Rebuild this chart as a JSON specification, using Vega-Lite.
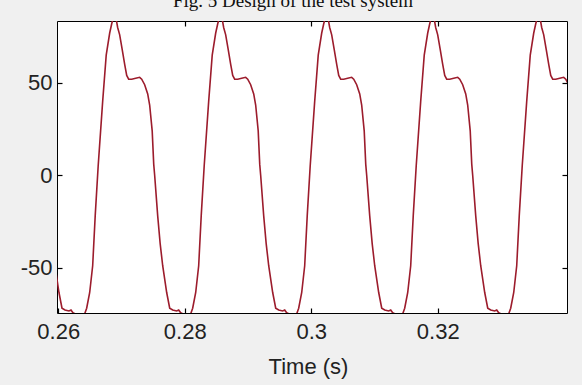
{
  "$schema": "https://vega.github.io/schema/vega-lite/v6.json",
  "autosize": "none",
  "width": 510,
  "height": 292,
  "padding": {"left": 57, "top": 21, "right": 15, "bottom": 72},
  "background": "#f0f0f0",
  "title": {
    "text": "Fig. 5 Design of the test system",
    "font": "Liberation Serif",
    "fontSize": 19,
    "fontWeight": "normal",
    "color": "#111111",
    "anchor": "middle",
    "frame": "group",
    "baseline": "alphabetic",
    "offset": 0,
    "dy": 6,
    "dx": -19
  },
  "config": {
    "view": {"fill": "white", "stroke": "black", "strokeWidth": 1},
    "axis": {
      "grid": false,
      "domain": false,
      "labelFont": "Liberation Sans",
      "labelFontSize": 22,
      "labelColor": "#222222",
      "titleFont": "Liberation Sans",
      "titleFontSize": 22,
      "titleFontWeight": "normal",
      "titleColor": "#222222"
    }
  },
  "datasets": {
    "wave": [
      {"t": 0.25870, "v": -22},
      {"t": 0.25909, "v": -37},
      {"t": 0.25949, "v": -49},
      {"t": 0.26012, "v": -63.5},
      {"t": 0.26060, "v": -72},
      {"t": 0.26107, "v": -73},
      {"t": 0.26170, "v": -73.5},
      {"t": 0.26202, "v": -73},
      {"t": 0.26233, "v": -74.5},
      {"t": 0.26297, "v": -75.5},
      {"t": 0.26419, "v": -75},
      {"t": 0.26450, "v": -72},
      {"t": 0.26498, "v": -63.5},
      {"t": 0.26545, "v": -49},
      {"t": 0.26585, "v": -22},
      {"t": 0.26632, "v": 5},
      {"t": 0.26703, "v": 40},
      {"t": 0.26759, "v": 65},
      {"t": 0.26814, "v": 77},
      {"t": 0.26846, "v": 82},
      {"t": 0.26877, "v": 86},
      {"t": 0.26909, "v": 86},
      {"t": 0.26940, "v": 80},
      {"t": 0.26972, "v": 76},
      {"t": 0.27012, "v": 68},
      {"t": 0.27051, "v": 60},
      {"t": 0.27083, "v": 54},
      {"t": 0.27114, "v": 52},
      {"t": 0.27162, "v": 52},
      {"t": 0.27225, "v": 52.5},
      {"t": 0.27288, "v": 53},
      {"t": 0.27320, "v": 52},
      {"t": 0.27367, "v": 49},
      {"t": 0.27415, "v": 44},
      {"t": 0.27446, "v": 38},
      {"t": 0.27486, "v": 24},
      {"t": 0.27510, "v": 6},
      {"t": 0.27525, "v": 0},
      {"t": 0.27573, "v": -22},
      {"t": 0.27612, "v": -37},
      {"t": 0.27652, "v": -49},
      {"t": 0.27715, "v": -63.5},
      {"t": 0.27763, "v": -72},
      {"t": 0.27810, "v": -73},
      {"t": 0.27873, "v": -73.5},
      {"t": 0.27905, "v": -73},
      {"t": 0.27936, "v": -74.5},
      {"t": 0.28000, "v": -75.5},
      {"t": 0.28095, "v": -75},
      {"t": 0.28126, "v": -72},
      {"t": 0.28174, "v": -63.5},
      {"t": 0.28221, "v": -49},
      {"t": 0.28261, "v": -22},
      {"t": 0.28308, "v": 5},
      {"t": 0.28379, "v": 40},
      {"t": 0.28435, "v": 65},
      {"t": 0.28490, "v": 77},
      {"t": 0.28522, "v": 82},
      {"t": 0.28553, "v": 86},
      {"t": 0.28585, "v": 86},
      {"t": 0.28616, "v": 80},
      {"t": 0.28648, "v": 76},
      {"t": 0.28688, "v": 68},
      {"t": 0.28727, "v": 60},
      {"t": 0.28759, "v": 54},
      {"t": 0.28790, "v": 52},
      {"t": 0.28838, "v": 52},
      {"t": 0.28901, "v": 52.5},
      {"t": 0.28964, "v": 53},
      {"t": 0.28996, "v": 52},
      {"t": 0.29043, "v": 49},
      {"t": 0.29091, "v": 44},
      {"t": 0.29122, "v": 38},
      {"t": 0.29162, "v": 24},
      {"t": 0.29186, "v": 6},
      {"t": 0.29201, "v": 0},
      {"t": 0.29249, "v": -22},
      {"t": 0.29288, "v": -37},
      {"t": 0.29328, "v": -49},
      {"t": 0.29391, "v": -63.5},
      {"t": 0.29439, "v": -72},
      {"t": 0.29486, "v": -73},
      {"t": 0.29549, "v": -73.5},
      {"t": 0.29581, "v": -73},
      {"t": 0.29612, "v": -74.5},
      {"t": 0.29676, "v": -75.5},
      {"t": 0.29771, "v": -75},
      {"t": 0.29802, "v": -72},
      {"t": 0.29850, "v": -63.5},
      {"t": 0.29897, "v": -49},
      {"t": 0.29937, "v": -22},
      {"t": 0.29984, "v": 5},
      {"t": 0.30055, "v": 40},
      {"t": 0.30111, "v": 65},
      {"t": 0.30166, "v": 77},
      {"t": 0.30198, "v": 82},
      {"t": 0.30229, "v": 86},
      {"t": 0.30261, "v": 86},
      {"t": 0.30292, "v": 80},
      {"t": 0.30324, "v": 76},
      {"t": 0.30364, "v": 68},
      {"t": 0.30403, "v": 60},
      {"t": 0.30435, "v": 54},
      {"t": 0.30466, "v": 52},
      {"t": 0.30514, "v": 52},
      {"t": 0.30577, "v": 52.5},
      {"t": 0.30640, "v": 53},
      {"t": 0.30672, "v": 52},
      {"t": 0.30719, "v": 49},
      {"t": 0.30767, "v": 44},
      {"t": 0.30798, "v": 38},
      {"t": 0.30838, "v": 24},
      {"t": 0.30862, "v": 6},
      {"t": 0.30877, "v": 0},
      {"t": 0.30925, "v": -22},
      {"t": 0.30964, "v": -37},
      {"t": 0.31004, "v": -49},
      {"t": 0.31067, "v": -63.5},
      {"t": 0.31115, "v": -72},
      {"t": 0.31162, "v": -73},
      {"t": 0.31225, "v": -73.5},
      {"t": 0.31257, "v": -73},
      {"t": 0.31288, "v": -74.5},
      {"t": 0.31352, "v": -75.5},
      {"t": 0.31447, "v": -75},
      {"t": 0.31478, "v": -72},
      {"t": 0.31526, "v": -63.5},
      {"t": 0.31573, "v": -49},
      {"t": 0.31613, "v": -22},
      {"t": 0.31660, "v": 5},
      {"t": 0.31731, "v": 40},
      {"t": 0.31787, "v": 65},
      {"t": 0.31842, "v": 77},
      {"t": 0.31874, "v": 82},
      {"t": 0.31905, "v": 86},
      {"t": 0.31937, "v": 86},
      {"t": 0.31968, "v": 80},
      {"t": 0.32000, "v": 76},
      {"t": 0.32040, "v": 68},
      {"t": 0.32079, "v": 60},
      {"t": 0.32111, "v": 54},
      {"t": 0.32142, "v": 52},
      {"t": 0.32190, "v": 52},
      {"t": 0.32253, "v": 52.5},
      {"t": 0.32316, "v": 53},
      {"t": 0.32348, "v": 52},
      {"t": 0.32395, "v": 49},
      {"t": 0.32443, "v": 44},
      {"t": 0.32474, "v": 38},
      {"t": 0.32514, "v": 24},
      {"t": 0.32538, "v": 6},
      {"t": 0.32553, "v": 0},
      {"t": 0.32601, "v": -22},
      {"t": 0.32640, "v": -37},
      {"t": 0.32680, "v": -49},
      {"t": 0.32743, "v": -63.5},
      {"t": 0.32791, "v": -72},
      {"t": 0.32838, "v": -73},
      {"t": 0.32901, "v": -73.5},
      {"t": 0.32933, "v": -73},
      {"t": 0.32964, "v": -74.5},
      {"t": 0.33028, "v": -75.5},
      {"t": 0.33123, "v": -75},
      {"t": 0.33154, "v": -72},
      {"t": 0.33202, "v": -63.5},
      {"t": 0.33249, "v": -49},
      {"t": 0.33289, "v": -22},
      {"t": 0.33336, "v": 5},
      {"t": 0.33407, "v": 40},
      {"t": 0.33463, "v": 65},
      {"t": 0.33518, "v": 77},
      {"t": 0.33550, "v": 82},
      {"t": 0.33581, "v": 86},
      {"t": 0.33613, "v": 86},
      {"t": 0.33644, "v": 80},
      {"t": 0.33676, "v": 76},
      {"t": 0.33716, "v": 68},
      {"t": 0.33755, "v": 60},
      {"t": 0.33787, "v": 54},
      {"t": 0.33818, "v": 52},
      {"t": 0.33866, "v": 52},
      {"t": 0.33929, "v": 52.5},
      {"t": 0.33992, "v": 53},
      {"t": 0.34024, "v": 52},
      {"t": 0.34071, "v": 49}
    ]
  },
  "data": {"name": "wave"},
  "layer": [
    {
      "mark": {"type": "line", "color": "#9c1c2c", "strokeWidth": 1.6, "clip": true},
      "encoding": {
        "x": {
          "field": "t",
          "type": "quantitative",
          "scale": {"domain": [0.25981, 0.34044], "nice": false, "zero": false},
          "axis": {
            "orient": "bottom",
            "values": [0.26, 0.28, 0.3, 0.32],
            "format": "~g",
            "ticks": true,
            "tickSize": 5,
            "tickColor": "#000000",
            "tickWidth": 1.2,
            "offset": -5,
            "labelPadding": 8,
            "labelFlush": false,
            "zindex": 5,
            "title": "Time (s)",
            "titleBaseline": "alphabetic",
            "titleY": 65,
            "titleX": 251,
            "titleAlign": "center",
            "titleAnchor": null
          }
        },
        "y": {
          "field": "v",
          "type": "quantitative",
          "scale": {"domain": [-74.6, 83.5], "nice": false, "zero": false},
          "axis": {
            "orient": "left",
            "values": [-50, 0, 50],
            "labelExpr": "'' + datum.value",
            "ticks": true,
            "tickSize": 5,
            "tickColor": "#000000",
            "tickWidth": 1.2,
            "offset": -5,
            "labelPadding": 5,
            "labelFlush": false,
            "zindex": 5,
            "title": null
          }
        }
      }
    },
    {
      "mark": {"type": "line", "strokeOpacity": 0, "clip": true},
      "encoding": {
        "x": {
          "field": "t",
          "type": "quantitative",
          "axis": {"orient": "top", "values": [0.28, 0.3, 0.32], "labels": false, "ticks": true, "tickSize": 5, "tickColor": "#000000", "tickWidth": 1.2, "offset": -5, "zindex": 5, "title": null}
        },
        "y": {
          "field": "v",
          "type": "quantitative",
          "axis": {"orient": "right", "values": [-50, 0, 50], "labels": false, "ticks": true, "tickSize": 5, "tickColor": "#000000", "tickWidth": 1.2, "offset": -5, "zindex": 5, "title": null}
        }
      }
    }
  ]
}
